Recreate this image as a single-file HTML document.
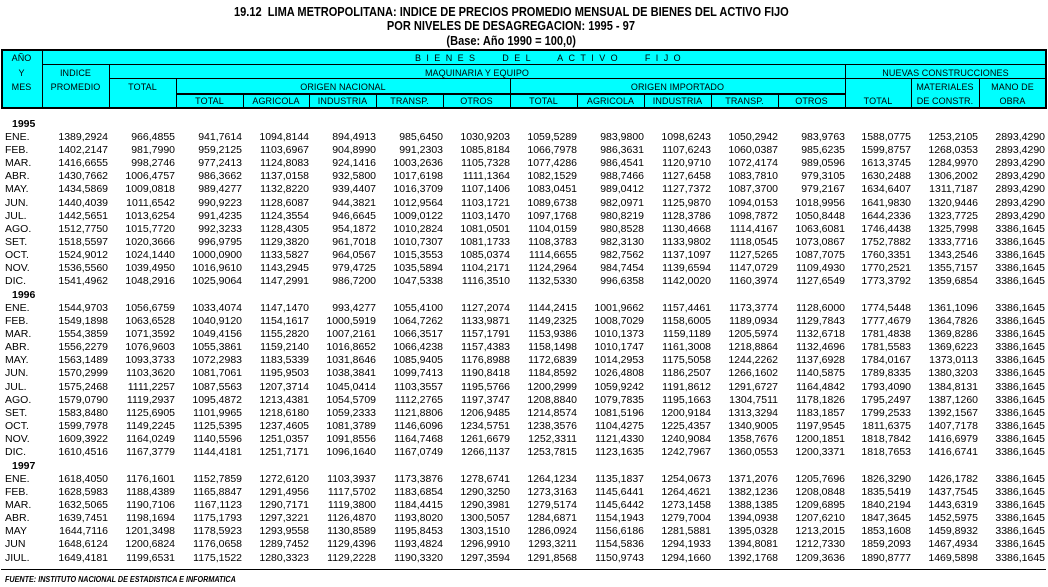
<!DOCTYPE html>
<html><head><meta charset="utf-8"><style>
*{margin:0;padding:0;box-sizing:border-box}
body{width:1048px;height:587px;overflow:hidden;background:#fff;position:relative;font-family:"Liberation Sans",Arial,sans-serif;color:#000}
.t{position:absolute;left:0;width:1022px;text-align:center;font-weight:bold;font-size:13px;line-height:15px;height:15px;white-space:nowrap}
.t span{display:inline-block;transform:scaleX(.85);transform-origin:center}
.hd{position:absolute;left:1px;top:49px;width:1046px;height:60px;background:#0ff;border:2px solid #000}
.h{position:absolute;background:#000;height:1px}
.v{position:absolute;background:#000;width:1px}
.l{position:absolute;font-size:9px;line-height:14px;height:14px;text-align:center;white-space:nowrap;letter-spacing:.1px}
.r{position:absolute;left:0;width:1048px;height:13px;font-size:10.5px;line-height:13px;white-space:nowrap}
.r span{position:absolute;top:0;width:66px;text-align:right}
.r span:nth-child(1){left:5px;text-align:left}
.r span:nth-child(2){left:42px}
.r span:nth-child(3){left:109px}
.r span:nth-child(4){left:176px}
.r span:nth-child(5){left:243px}
.r span:nth-child(6){left:310px}
.r span:nth-child(7){left:377px}
.r span:nth-child(8){left:444px}
.r span:nth-child(9){left:511px}
.r span:nth-child(10){left:578px}
.r span:nth-child(11){left:645px}
.r span:nth-child(12){left:712px}
.r span:nth-child(13){left:779px}
.r span:nth-child(14){left:845px}
.r span:nth-child(15){left:912px}
.r span:nth-child(16){left:979px}
.y{position:absolute;left:12px;font-weight:bold;font-size:10.5px;line-height:13px;height:13px}
.f{position:absolute;left:5px;top:575px;font-size:8px;line-height:10px;font-weight:bold;font-style:italic;white-space:nowrap;transform:scaleX(.9);transform-origin:left center}
</style></head><body>
<div class="t" style="top:4px"><span>19.12&nbsp; LIMA METROPOLITANA: INDICE DE PRECIOS PROMEDIO MENSUAL DE BIENES DEL ACTIVO FIJO</span></div>
<div class="t" style="top:18px"><span>POR NIVELES DE DESAGREGACION: 1995 - 97</span></div>
<div class="t" style="top:33px"><span>(Base: Año 1990 = 100,0)</span></div>

<div class="hd"></div>
<div class="h" style="top:64px;left:42px;width:1004px"></div>
<div class="h" style="top:78px;left:109px;width:937px"></div>
<div class="h" style="top:93px;left:176px;height:2px;width:670px"></div>
<div class="v" style="left:42px;top:50px;height:58px"></div>
<div class="v" style="left:109px;top:64px;height:44px"></div>
<div class="v" style="left:176px;top:78px;height:30px"></div>
<div class="v" style="left:510px;top:78px;height:30px"></div>
<div class="v" style="left:845px;top:64px;height:44px"></div>
<div class="v" style="left:911px;top:78px;height:30px"></div>
<div class="v" style="left:979px;top:78px;height:30px"></div>
<div class="v" style="left:243px;top:94px;height:14px"></div>
<div class="v" style="left:309px;top:94px;height:14px"></div>
<div class="v" style="left:376px;top:94px;height:14px"></div>
<div class="v" style="left:443px;top:94px;height:14px"></div>
<div class="v" style="left:577px;top:94px;height:14px"></div>
<div class="v" style="left:644px;top:94px;height:14px"></div>
<div class="v" style="left:711px;top:94px;height:14px"></div>
<div class="v" style="left:778px;top:94px;height:14px"></div>

<div class="l" style="left:1px;width:41px;top:51px">AÑO</div>
<div class="l" style="left:1px;width:41px;top:66px">Y</div>
<div class="l" style="left:1px;width:41px;top:80px">MES</div>
<div class="l" style="left:415px;top:51px;text-align:left;letter-spacing:5.4px;word-spacing:14px">BIENES DEL ACTIVO FIJO</div>
<div class="l" style="left:42px;width:67px;top:66px">INDICE</div>
<div class="l" style="left:42px;width:67px;top:80px">PROMEDIO</div>
<div class="l" style="left:109px;width:736px;top:66px">MAQUINARIA Y EQUIPO</div>
<div class="l" style="left:845px;width:201px;top:66px">NUEVAS CONSTRUCCIONES</div>
<div class="l" style="left:109px;width:67px;top:80px">TOTAL</div>
<div class="l" style="left:176px;width:334px;top:80px">ORIGEN NACIONAL</div>
<div class="l" style="left:510px;width:335px;top:80px">ORIGEN IMPORTADO</div>
<div class="l" style="left:911px;width:68px;top:80px">MATERIALES</div>
<div class="l" style="left:979px;width:67px;top:80px">MANO DE</div>
<div class="l" style="left:176px;width:67px;top:94px">TOTAL</div>
<div class="l" style="left:243px;width:66px;top:94px">AGRICOLA</div>
<div class="l" style="left:309px;width:67px;top:94px">INDUSTRIA</div>
<div class="l" style="left:376px;width:67px;top:94px">TRANSP.</div>
<div class="l" style="left:443px;width:67px;top:94px">OTROS</div>
<div class="l" style="left:510px;width:67px;top:94px">TOTAL</div>
<div class="l" style="left:577px;width:67px;top:94px">AGRICOLA</div>
<div class="l" style="left:644px;width:67px;top:94px">INDUSTRIA</div>
<div class="l" style="left:711px;width:67px;top:94px">TRANSP.</div>
<div class="l" style="left:778px;width:67px;top:94px">OTROS</div>
<div class="l" style="left:845px;width:66px;top:94px">TOTAL</div>
<div class="l" style="left:911px;width:68px;top:94px">DE CONSTR.</div>
<div class="l" style="left:979px;width:67px;top:94px">OBRA</div>

<div class="y" style="top:118px">1995</div>
<div class="r" style="top:131px"><span>ENE.</span><span>1389,2924</span><span>966,4855</span><span>941,7614</span><span>1094,8144</span><span>894,4913</span><span>985,6450</span><span>1030,9203</span><span>1059,5289</span><span>983,9800</span><span>1098,6243</span><span>1050,2942</span><span>983,9763</span><span>1588,0775</span><span>1253,2105</span><span>2893,4290</span></div>
<div class="r" style="top:144px"><span>FEB.</span><span>1402,2147</span><span>981,7990</span><span>959,2125</span><span>1103,6967</span><span>904,8990</span><span>991,2303</span><span>1085,8184</span><span>1066,7978</span><span>986,3631</span><span>1107,6243</span><span>1060,0387</span><span>985,6235</span><span>1599,8757</span><span>1268,0353</span><span>2893,4290</span></div>
<div class="r" style="top:157px"><span>MAR.</span><span>1416,6655</span><span>998,2746</span><span>977,2413</span><span>1124,8083</span><span>924,1416</span><span>1003,2636</span><span>1105,7328</span><span>1077,4286</span><span>986,4541</span><span>1120,9710</span><span>1072,4174</span><span>989,0596</span><span>1613,3745</span><span>1284,9970</span><span>2893,4290</span></div>
<div class="r" style="top:170px"><span>ABR.</span><span>1430,7662</span><span>1006,4757</span><span>986,3662</span><span>1137,0158</span><span>932,5800</span><span>1017,6198</span><span>1111,1364</span><span>1082,1529</span><span>988,7466</span><span>1127,6458</span><span>1083,7810</span><span>979,3105</span><span>1630,2488</span><span>1306,2002</span><span>2893,4290</span></div>
<div class="r" style="top:183px"><span>MAY.</span><span>1434,5869</span><span>1009,0818</span><span>989,4277</span><span>1132,8220</span><span>939,4407</span><span>1016,3709</span><span>1107,1406</span><span>1083,0451</span><span>989,0412</span><span>1127,7372</span><span>1087,3700</span><span>979,2167</span><span>1634,6407</span><span>1311,7187</span><span>2893,4290</span></div>
<div class="r" style="top:197px"><span>JUN.</span><span>1440,4039</span><span>1011,6542</span><span>990,9223</span><span>1128,6087</span><span>944,3821</span><span>1012,9564</span><span>1103,1721</span><span>1089,6738</span><span>982,0971</span><span>1125,9870</span><span>1094,0153</span><span>1018,9956</span><span>1641,9830</span><span>1320,9446</span><span>2893,4290</span></div>
<div class="r" style="top:210px"><span>JUL.</span><span>1442,5651</span><span>1013,6254</span><span>991,4235</span><span>1124,3554</span><span>946,6645</span><span>1009,0122</span><span>1103,1470</span><span>1097,1768</span><span>980,8219</span><span>1128,3786</span><span>1098,7872</span><span>1050,8448</span><span>1644,2336</span><span>1323,7725</span><span>2893,4290</span></div>
<div class="r" style="top:223px"><span>AGO.</span><span>1512,7750</span><span>1015,7720</span><span>992,3233</span><span>1128,4305</span><span>954,1872</span><span>1010,2824</span><span>1081,0501</span><span>1104,0159</span><span>980,8528</span><span>1130,4668</span><span>1114,4167</span><span>1063,6081</span><span>1746,4438</span><span>1325,7998</span><span>3386,1645</span></div>
<div class="r" style="top:236px"><span>SET.</span><span>1518,5597</span><span>1020,3666</span><span>996,9795</span><span>1129,3820</span><span>961,7018</span><span>1010,7307</span><span>1081,1733</span><span>1108,3783</span><span>982,3130</span><span>1133,9802</span><span>1118,0545</span><span>1073,0867</span><span>1752,7882</span><span>1333,7716</span><span>3386,1645</span></div>
<div class="r" style="top:249px"><span>OCT.</span><span>1524,9012</span><span>1024,1440</span><span>1000,0900</span><span>1133,5827</span><span>964,0567</span><span>1015,3553</span><span>1085,0374</span><span>1114,6655</span><span>982,7562</span><span>1137,1097</span><span>1127,5265</span><span>1087,7075</span><span>1760,3351</span><span>1343,2546</span><span>3386,1645</span></div>
<div class="r" style="top:262px"><span>NOV.</span><span>1536,5560</span><span>1039,4950</span><span>1016,9610</span><span>1143,2945</span><span>979,4725</span><span>1035,5894</span><span>1104,2171</span><span>1124,2964</span><span>984,7454</span><span>1139,6594</span><span>1147,0729</span><span>1109,4930</span><span>1770,2521</span><span>1355,7157</span><span>3386,1645</span></div>
<div class="r" style="top:275px"><span>DIC.</span><span>1541,4962</span><span>1048,2916</span><span>1025,9064</span><span>1147,2991</span><span>986,7200</span><span>1047,5338</span><span>1116,3510</span><span>1132,5330</span><span>996,6358</span><span>1142,0020</span><span>1160,3974</span><span>1127,6549</span><span>1773,3792</span><span>1359,6854</span><span>3386,1645</span></div>
<div class="y" style="top:289px">1996</div>
<div class="r" style="top:302px"><span>ENE.</span><span>1544,9703</span><span>1056,6759</span><span>1033,4074</span><span>1147,1470</span><span>993,4277</span><span>1055,4100</span><span>1127,2074</span><span>1144,2415</span><span>1001,9662</span><span>1157,4461</span><span>1173,3774</span><span>1128,6000</span><span>1774,5448</span><span>1361,1096</span><span>3386,1645</span></div>
<div class="r" style="top:315px"><span>FEB.</span><span>1549,1898</span><span>1063,6528</span><span>1040,9120</span><span>1154,1617</span><span>1000,5919</span><span>1064,7262</span><span>1133,9871</span><span>1149,2325</span><span>1008,7029</span><span>1158,6005</span><span>1189,0934</span><span>1129,7843</span><span>1777,4679</span><span>1364,7826</span><span>3386,1645</span></div>
<div class="r" style="top:328px"><span>MAR.</span><span>1554,3859</span><span>1071,3592</span><span>1049,4156</span><span>1155,2820</span><span>1007,2161</span><span>1066,3517</span><span>1157,1791</span><span>1153,9386</span><span>1010,1373</span><span>1159,1189</span><span>1205,5974</span><span>1132,6718</span><span>1781,4838</span><span>1369,8286</span><span>3386,1645</span></div>
<div class="r" style="top:341px"><span>ABR.</span><span>1556,2279</span><span>1076,9603</span><span>1055,3861</span><span>1159,2140</span><span>1016,8652</span><span>1066,4238</span><span>1157,4383</span><span>1158,1498</span><span>1010,1747</span><span>1161,3008</span><span>1218,8864</span><span>1132,4696</span><span>1781,5583</span><span>1369,6223</span><span>3386,1645</span></div>
<div class="r" style="top:354px"><span>MAY.</span><span>1563,1489</span><span>1093,3733</span><span>1072,2983</span><span>1183,5339</span><span>1031,8646</span><span>1085,9405</span><span>1176,8988</span><span>1172,6839</span><span>1014,2953</span><span>1175,5058</span><span>1244,2262</span><span>1137,6928</span><span>1784,0167</span><span>1373,0113</span><span>3386,1645</span></div>
<div class="r" style="top:367px"><span>JUN.</span><span>1570,2999</span><span>1103,3620</span><span>1081,7061</span><span>1195,9503</span><span>1038,3841</span><span>1099,7413</span><span>1190,8418</span><span>1184,8592</span><span>1026,4808</span><span>1186,2507</span><span>1266,1602</span><span>1140,5875</span><span>1789,8335</span><span>1380,3203</span><span>3386,1645</span></div>
<div class="r" style="top:381px"><span>JUL.</span><span>1575,2468</span><span>1111,2257</span><span>1087,5563</span><span>1207,3714</span><span>1045,0414</span><span>1103,3557</span><span>1195,5766</span><span>1200,2999</span><span>1059,9242</span><span>1191,8612</span><span>1291,6727</span><span>1164,4842</span><span>1793,4090</span><span>1384,8131</span><span>3386,1645</span></div>
<div class="r" style="top:394px"><span>AGO.</span><span>1579,0790</span><span>1119,2937</span><span>1095,4872</span><span>1213,4381</span><span>1054,5709</span><span>1112,2765</span><span>1197,3747</span><span>1208,8840</span><span>1079,7835</span><span>1195,1663</span><span>1304,7511</span><span>1178,1826</span><span>1795,2497</span><span>1387,1260</span><span>3386,1645</span></div>
<div class="r" style="top:407px"><span>SET.</span><span>1583,8480</span><span>1125,6905</span><span>1101,9965</span><span>1218,6180</span><span>1059,2333</span><span>1121,8806</span><span>1206,9485</span><span>1214,8574</span><span>1081,5196</span><span>1200,9184</span><span>1313,3294</span><span>1183,1857</span><span>1799,2533</span><span>1392,1567</span><span>3386,1645</span></div>
<div class="r" style="top:420px"><span>OCT.</span><span>1599,7978</span><span>1149,2245</span><span>1125,5395</span><span>1237,4605</span><span>1081,3789</span><span>1146,6096</span><span>1234,5751</span><span>1238,3576</span><span>1104,4275</span><span>1225,4357</span><span>1340,9005</span><span>1197,9545</span><span>1811,6375</span><span>1407,7178</span><span>3386,1645</span></div>
<div class="r" style="top:433px"><span>NOV.</span><span>1609,3922</span><span>1164,0249</span><span>1140,5596</span><span>1251,0357</span><span>1091,8556</span><span>1164,7468</span><span>1261,6679</span><span>1252,3311</span><span>1121,4330</span><span>1240,9084</span><span>1358,7676</span><span>1200,1851</span><span>1818,7842</span><span>1416,6979</span><span>3386,1645</span></div>
<div class="r" style="top:446px"><span>DIC.</span><span>1610,4516</span><span>1167,3779</span><span>1144,4181</span><span>1251,7171</span><span>1096,1640</span><span>1167,0749</span><span>1266,1137</span><span>1253,7815</span><span>1123,1635</span><span>1242,7967</span><span>1360,0553</span><span>1200,3371</span><span>1818,7653</span><span>1416,6741</span><span>3386,1645</span></div>
<div class="y" style="top:460px">1997</div>
<div class="r" style="top:473px"><span>ENE.</span><span>1618,4050</span><span>1176,1601</span><span>1152,7859</span><span>1272,6120</span><span>1103,3937</span><span>1173,3876</span><span>1278,6741</span><span>1264,1234</span><span>1135,1837</span><span>1254,0673</span><span>1371,2076</span><span>1205,7696</span><span>1826,3290</span><span>1426,1782</span><span>3386,1645</span></div>
<div class="r" style="top:486px"><span>FEB.</span><span>1628,5983</span><span>1188,4389</span><span>1165,8847</span><span>1291,4956</span><span>1117,5702</span><span>1183,6854</span><span>1290,3250</span><span>1273,3163</span><span>1145,6441</span><span>1264,4621</span><span>1382,1236</span><span>1208,0848</span><span>1835,5419</span><span>1437,7545</span><span>3386,1645</span></div>
<div class="r" style="top:499px"><span>MAR.</span><span>1632,5065</span><span>1190,7106</span><span>1167,1123</span><span>1290,7171</span><span>1119,3800</span><span>1184,4415</span><span>1290,3981</span><span>1279,5174</span><span>1145,6442</span><span>1273,1458</span><span>1388,1385</span><span>1209,6895</span><span>1840,2194</span><span>1443,6319</span><span>3386,1645</span></div>
<div class="r" style="top:512px"><span>ABR.</span><span>1639,7451</span><span>1198,1694</span><span>1175,1793</span><span>1297,3221</span><span>1126,4870</span><span>1193,8020</span><span>1300,5057</span><span>1284,6871</span><span>1154,1943</span><span>1279,7004</span><span>1394,0938</span><span>1207,6210</span><span>1847,3645</span><span>1452,5975</span><span>3386,1645</span></div>
<div class="r" style="top:525px"><span>MAY</span><span>1644,7116</span><span>1201,3498</span><span>1178,5923</span><span>1293,9558</span><span>1130,8589</span><span>1195,8453</span><span>1303,1510</span><span>1286,0924</span><span>1156,6186</span><span>1281,5881</span><span>1395,0328</span><span>1213,2015</span><span>1853,1608</span><span>1459,8932</span><span>3386,1645</span></div>
<div class="r" style="top:538px"><span>JUN</span><span>1648,6124</span><span>1200,6824</span><span>1176,0658</span><span>1289,7452</span><span>1129,4396</span><span>1193,4824</span><span>1296,9910</span><span>1293,3211</span><span>1154,5836</span><span>1294,1933</span><span>1394,8081</span><span>1212,7330</span><span>1859,2093</span><span>1467,4934</span><span>3386,1645</span></div>
<div class="r" style="top:552px"><span>JIUL.</span><span>1649,4181</span><span>1199,6531</span><span>1175,1522</span><span>1280,3323</span><span>1129,2228</span><span>1190,3320</span><span>1297,3594</span><span>1291,8568</span><span>1150,9743</span><span>1294,1660</span><span>1392,1768</span><span>1209,3636</span><span>1890,8777</span><span>1469,5898</span><span>3386,1645</span></div>

<div class="h" style="top:569px;left:1px;width:1045px"></div>
<div class="f">FUENTE: INSTITUTO NACIONAL DE ESTADISTICA E INFORMATICA</div>
</body></html>
